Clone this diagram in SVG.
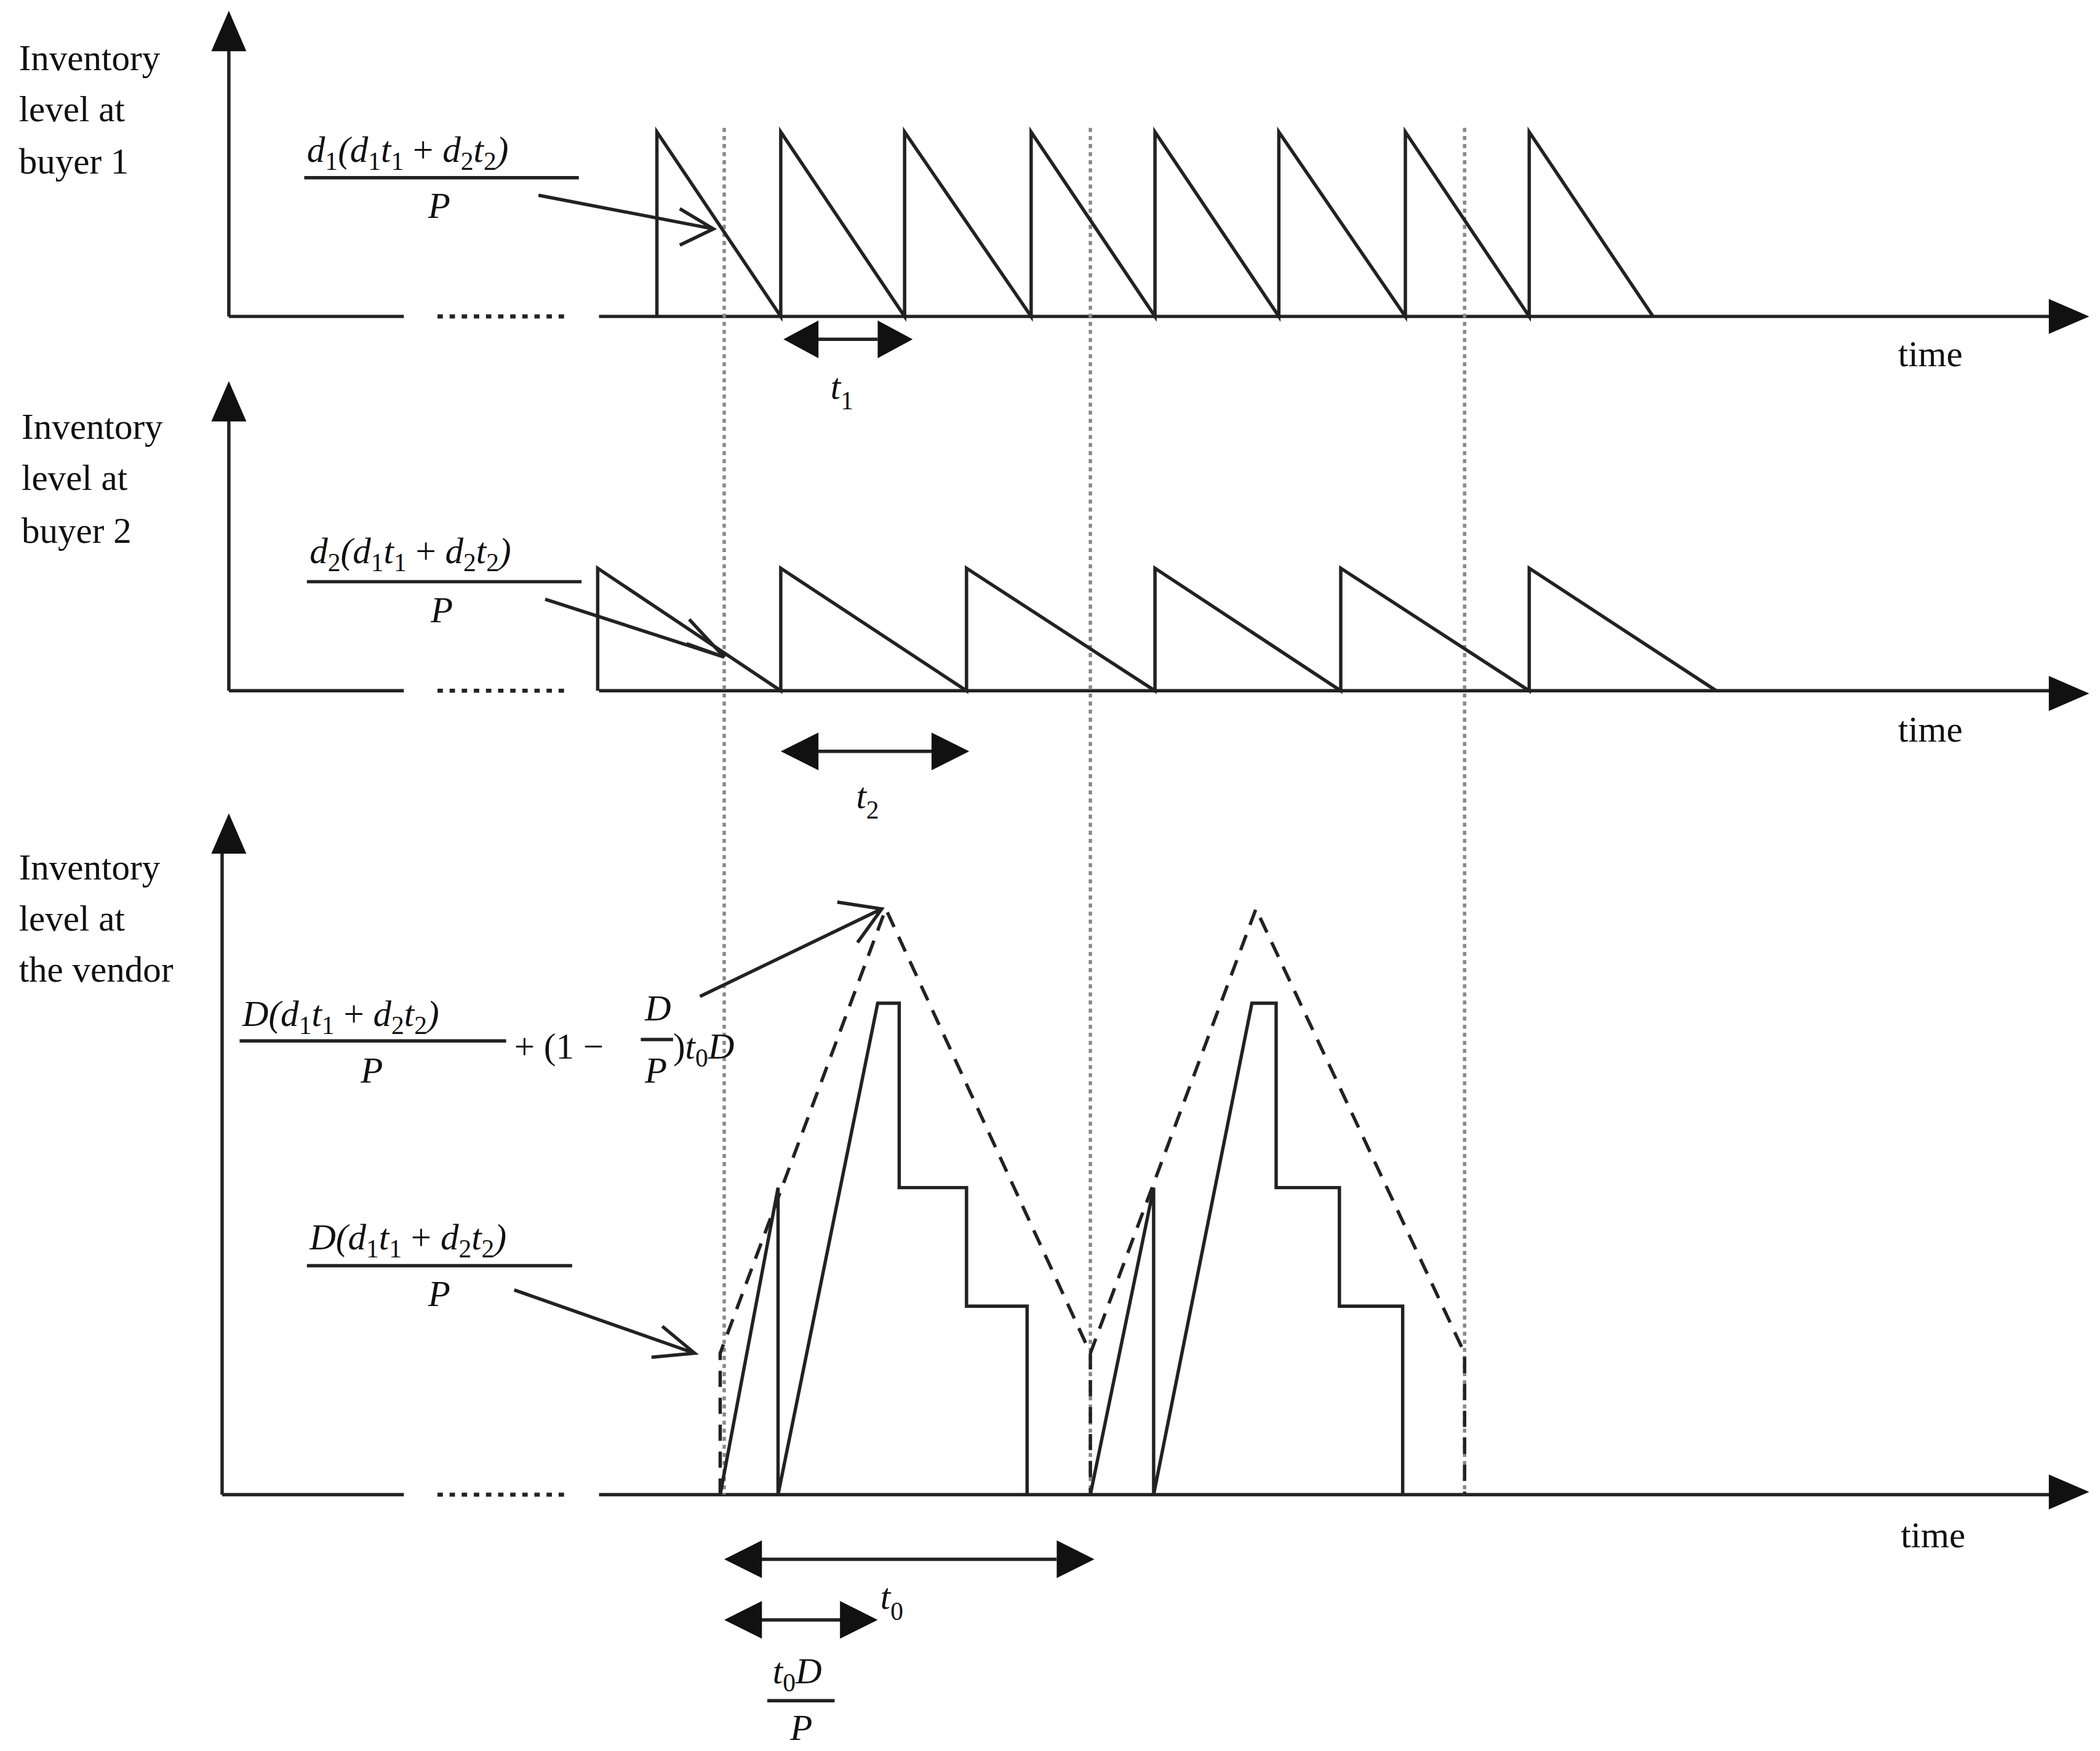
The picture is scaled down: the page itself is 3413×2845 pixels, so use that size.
<svg xmlns="http://www.w3.org/2000/svg" width="3413" height="2845" viewBox="0 0 3413 2845">
<style>
.l{stroke:#222;stroke-width:2.5;fill:none}
.d{stroke:#888;stroke-width:2.5;stroke-dasharray:3 3;fill:none}
.ds{stroke:#222;stroke-width:2.5;stroke-dasharray:12 8;fill:none}
.dots{stroke:#222;stroke-width:3;stroke-dasharray:4 5;fill:none}
.h{fill:#111}
text{font-family:"Liberation Serif",serif;font-size:27px;fill:#111}
.m{font-style:italic}
.s{font-size:19px;font-style:normal}
</style>
<rect width="3413" height="2845" fill="#fff"/>
<g transform="scale(2.1878)">
<g id="axes">
<path class="l" d="M170,235V35M170,235H300M445,235H1525"/>
<path class="dots" d="M325,235H420"/>
<polygon class="h" points="170,8 157,38 183,38"/><polygon class="h" points="1552,235 1522,222 1522,248"/>
<path class="l" d="M170,513V312M170,513H300M445,513H1525"/>
<path class="dots" d="M325,513H420"/>
<polygon class="h" points="170,283 157,313 183,313"/><polygon class="h" points="1552,515 1522,502 1522,528"/>
<path class="l" d="M165,1110V632M165,1110H300M445,1110H1525"/>
<path class="dots" d="M325,1110H420"/>
<polygon class="h" points="170,604 157,634 183,634"/><polygon class="h" points="1552,1108 1522,1095 1522,1121"/>
</g>
<g id="guides">
<path class="d" d="M538,95V1110M810,95V1110M1088,95V1110"/>
</g>
<g id="buyer1">
<path class="l" d="M488,235V98L580,235V98L672,235V98L766,235V98L858,235V98L950,235V98L1044,235V98L1136,235V98L1228,235"/>
</g>
<g id="buyer2">
<path class="l" d="M444,513V422L580,513V422L718,513V422L858,513V422L996,513V422L1136,513V422L1275,513"/>
</g>
<g id="vendor">
<path class="l" d="M535,1110L578,882V1110L652,745H668V882H718V970H763V1110"/>
<path class="l" d="M810,1110L857,882V1110L930,745H948V882H995V970H1042V1110"/>
<path class="ds" d="M535,1110V1005L658,675L810,1005L933,675L1088,1005V1110M810,1005V1110"/>
</g>
<g id="connectors">
<path class="l" d="M400,145L530,170M505,155L530,170L505,182"/>
<path class="l" d="M405,445L538,488M512,460L538,488L510,478"/>
<path class="l" d="M520,740L655,675M622,670L655,675L637,700"/>
<path class="l" d="M382,958L516,1005M492,985L516,1005L484,1008"/>
<path class="l" d="M605,252H652"/><polygon class="h" points="582,252 608,238 608,266"/><polygon class="h" points="678,252 652,238 652,266"/>
<path class="l" d="M605,558H694"/><polygon class="h" points="580,558 608,544 608,572"/><polygon class="h" points="720,558 692,544 692,572"/>
<path class="l" d="M565,1158H785"/><polygon class="h" points="538,1158 566,1144 566,1172"/><polygon class="h" points="813,1158 785,1144 785,1172"/>
<path class="l" d="M565,1203H625"/><polygon class="h" points="538,1203 566,1189 566,1217"/><polygon class="h" points="652,1203 624,1189 624,1217"/>
</g>
<g id="labels">
<text x="14" y="52">Inventory</text><text x="14" y="90">level at</text><text x="14" y="129">buyer 1</text>
<text x="16" y="326">Inventory</text><text x="16" y="364">level at</text><text x="16" y="403">buyer 2</text>
<text x="14" y="653">Inventory</text><text x="14" y="691">level at</text><text x="14" y="729">the vendor</text>
<text x="1410" y="272">time</text><text x="1410" y="551">time</text><text x="1412" y="1149">time</text>
<text class="m" x="228" y="120">d<tspan class="s" dy="6">1</tspan><tspan dy="-6">(d</tspan><tspan class="s" dy="6">1</tspan><tspan dy="-6">t</tspan><tspan class="s" dy="6">1</tspan><tspan dy="-6" font-style="normal"> + </tspan><tspan dy="0">d</tspan><tspan class="s" dy="6">2</tspan><tspan dy="-6">t</tspan><tspan class="s" dy="6">2</tspan><tspan dy="-6">)</tspan></text>
<path class="l" d="M226,132H430"/><text class="m" x="318" y="162">P</text>
<text class="m" x="230" y="418">d<tspan class="s" dy="6">2</tspan><tspan dy="-6">(d</tspan><tspan class="s" dy="6">1</tspan><tspan dy="-6">t</tspan><tspan class="s" dy="6">1</tspan><tspan dy="-6" font-style="normal"> + </tspan><tspan dy="0">d</tspan><tspan class="s" dy="6">2</tspan><tspan dy="-6">t</tspan><tspan class="s" dy="6">2</tspan><tspan dy="-6">)</tspan></text>
<path class="l" d="M228,432H432"/><text class="m" x="320" y="462">P</text>
<text class="m" x="180" y="762">D(d<tspan class="s" dy="6">1</tspan><tspan dy="-6">t</tspan><tspan class="s" dy="6">1</tspan><tspan dy="-6" font-style="normal"> + </tspan><tspan dy="0">d</tspan><tspan class="s" dy="6">2</tspan><tspan dy="-6">t</tspan><tspan class="s" dy="6">2</tspan><tspan dy="-6">)</tspan></text>
<path class="l" d="M178,773H376"/><text class="m" x="268" y="804">P</text>
<text x="382" y="786">+ (1 −</text><text class="m" x="479" y="758">D</text><path class="l" d="M476,772H500"/><text class="m" x="479" y="804">P</text>
<text class="m" x="500" y="786"><tspan font-style="normal">)</tspan>t<tspan class="s" dy="6">0</tspan><tspan dy="-6">D</tspan></text>
<text class="m" x="230" y="928">D(d<tspan class="s" dy="6">1</tspan><tspan dy="-6">t</tspan><tspan class="s" dy="6">1</tspan><tspan dy="-6" font-style="normal"> + </tspan><tspan dy="0">d</tspan><tspan class="s" dy="6">2</tspan><tspan dy="-6">t</tspan><tspan class="s" dy="6">2</tspan><tspan dy="-6">)</tspan></text>
<path class="l" d="M228,940H425"/><text class="m" x="318" y="970">P</text>
<text class="m" x="617" y="296" font-size="34">t<tspan class="s" font-size="24" dy="8">1</tspan></text>
<text class="m" x="636" y="600" font-size="34">t<tspan class="s" font-size="24" dy="8">2</tspan></text>
<text class="m" x="654" y="1195" font-size="34">t<tspan class="s" font-size="24" dy="8">0</tspan></text>
<text class="m" x="574" y="1250">t<tspan class="s" dy="6">0</tspan><tspan dy="-6">D</tspan></text>
<path class="l" d="M570,1263H620"/><text class="m" x="587" y="1292">P</text>
</g>
</g>
</svg>
